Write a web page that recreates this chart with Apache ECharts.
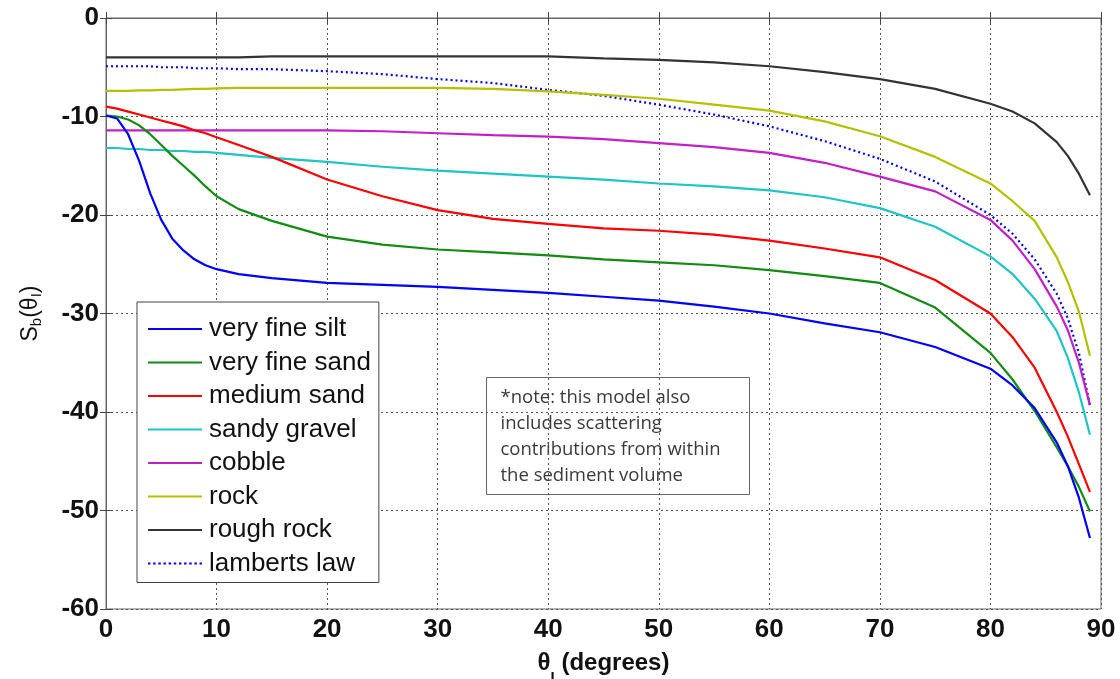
<!DOCTYPE html>
<html>
<head>
<meta charset="utf-8">
<script src="https://cdn.jsdelivr.net/npm/echarts@6/dist/echarts.min.js"></script>
<style>
html,body{margin:0;padding:0;background:#fff;}
#chart{width:1120px;height:679px;}
</style>
</head>
<body>
<div id="chart"></div>
<script>
// Incidence angles (degrees)
const angles = [0,1,2,3,4,5,6,7,8,9,10,12,15,20,25,30,35,40,45,50,55,60,65,70,75,80,82,84,86,87,88,89];

// Scattering strength values (dB)
const veryFineSilt = [-9.9,-10.2,-11.8,-14.5,-17.8,-20.5,-22.4,-23.6,-24.5,-25.1,-25.5,-26.0,-26.4,-26.9,-27.1,-27.3,-27.6,-27.9,-28.3,-28.7,-29.3,-30.0,-31.0,-31.9,-33.4,-35.6,-37.3,-39.6,-43.1,-45.5,-48.7,-52.8];
const veryFineSand = [-9.9,-10.0,-10.3,-10.9,-11.8,-12.9,-14.0,-15.0,-16.0,-17.1,-18.1,-19.4,-20.6,-22.2,-23.0,-23.5,-23.8,-24.1,-24.5,-24.8,-25.1,-25.6,-26.2,-26.9,-29.4,-34.0,-36.7,-39.9,-43.6,-45.5,-47.6,-50.1];
const mediumSand   = [-9.0,-9.2,-9.5,-9.8,-10.1,-10.4,-10.7,-11.0,-11.4,-11.7,-12.1,-12.9,-14.1,-16.4,-18.1,-19.5,-20.4,-20.9,-21.35,-21.6,-22.0,-22.6,-23.4,-24.3,-26.6,-30.0,-32.4,-35.5,-40.0,-42.5,-45.3,-48.1];
const sandyGravel  = [-13.2,-13.2,-13.3,-13.3,-13.4,-13.4,-13.5,-13.5,-13.6,-13.6,-13.7,-13.9,-14.2,-14.6,-15.1,-15.5,-15.8,-16.1,-16.4,-16.8,-17.1,-17.5,-18.2,-19.3,-21.2,-24.2,-26.0,-28.5,-31.8,-34.5,-38.0,-42.3];
const cobble       = [-11.4,-11.4,-11.4,-11.4,-11.4,-11.4,-11.4,-11.4,-11.4,-11.4,-11.4,-11.4,-11.4,-11.4,-11.5,-11.7,-11.9,-12.05,-12.3,-12.7,-13.1,-13.7,-14.7,-16.1,-17.6,-20.5,-22.6,-25.5,-29.3,-31.7,-35.0,-39.3];
const rock         = [-7.4,-7.4,-7.4,-7.35,-7.35,-7.3,-7.3,-7.25,-7.2,-7.2,-7.15,-7.1,-7.1,-7.1,-7.1,-7.1,-7.2,-7.45,-7.8,-8.2,-8.8,-9.4,-10.5,-12.0,-14.1,-16.8,-18.6,-20.6,-24.3,-26.8,-29.8,-34.3];
const roughRock    = [-4.0,-4.0,-4.0,-4.0,-4.0,-4.0,-4.0,-4.0,-4.0,-4.0,-4.0,-4.0,-3.9,-3.9,-3.9,-3.9,-3.9,-3.9,-4.1,-4.25,-4.5,-4.9,-5.5,-6.2,-7.2,-8.7,-9.5,-10.7,-12.6,-14.0,-15.8,-18.0];
const lambertsLaw  = [-4.9,-4.9,-4.9,-4.9,-4.9,-5.0,-5.0,-5.0,-5.1,-5.1,-5.1,-5.2,-5.2,-5.4,-5.7,-6.2,-6.6,-7.3,-7.9,-8.8,-9.8,-11.0,-12.5,-14.3,-16.6,-20.0,-21.9,-24.5,-28.0,-30.5,-34.0,-39.3];

const seriesNames  = ['very fine silt','very fine sand','medium sand','sandy gravel','cobble','rock','rough rock','lamberts law'];
const seriesValues = [veryFineSilt, veryFineSand, mediumSand, sandyGravel, cobble, rock, roughRock, lambertsLaw];
const seriesColors = ['#0000ff','#118c11','#ff0000','#1fc4c4','#c21fc9','#b4c000','#333333','#0000ff'];

const xTicks = [0,10,20,30,40,50,60,70,80,90];
const yTicks = [0,-10,-20,-30,-40,-50,-60];

const noteLines = ['*note: this model also','includes scattering','contributions from within','the sediment volume'];

const chart = echarts.init(document.getElementById('chart'));

const labelFont = {fontFamily:'Liberation Sans, Arial, sans-serif', fontWeight:'bold', fontSize:26, color:'#111'};
const gridLine = {show:true, lineStyle:{color:'#555', type:[2,3], width:1}};

// legend icons: solid bar, and dotted bar for the dotted series
const solidIcon = 'path://M0,0h54v2h-54z';
let dots = '';
for (let k = 0; k < 11; k++) { dots += 'M' + (k * 5) + ',0h2.4v2h-2.4z'; }
const dottedIcon = 'path://' + dots;

const series = seriesNames.map((name, i) => ({
  name: name,
  type: 'line',
  xAxisIndex: 0, yAxisIndex: 0,
  data: angles.map((a, k) => [a, seriesValues[i][k]]),
  symbol: 'none',
  showSymbol: false,
  smooth: false,
  lineStyle: {color: seriesColors[i], width: 2.2, type: name === 'lamberts law' ? [2,3] : 'solid'},
  itemStyle: {color: seriesColors[i]},
  z: 10 - i,
  silent: true
}));

chart.setOption({
  backgroundColor: '#fff',
  animation: false,
  grid: {left:106, top:18, right:19, bottom:70, outerBoundsMode:'none', containLabel:false,
         show:true, borderColor:'#666', borderWidth:1, backgroundColor:'#fff'},
  xAxis: [{
    type:'value', min:0, max:90, interval:10, position:'bottom',
    axisLine:{show:true, lineStyle:{color:'#666'}},
    axisTick:{show:true, inside:true, length:6, lineStyle:{color:'#444'}},
    axisLabel:Object.assign({margin:8}, labelFont),
    splitLine:gridLine,
    name:'{t|θ}{s|I}{t| (degrees)}',
    nameLocation:'middle', nameGap:40,
    nameTextStyle:{rich:{
      t:{fontFamily:'Liberation Sans, Arial, sans-serif', fontWeight:'bold', fontSize:24, color:'#111', lineHeight:28},
      s:{fontFamily:'Liberation Sans, Arial, sans-serif', fontWeight:'bold', fontSize:15, color:'#111', verticalAlign:'bottom', lineHeight:16, padding:[0,0,-8,0]}
    }}
  },{
    type:'value', min:0, max:90, interval:10, position:'top',
    axisLine:{show:true, lineStyle:{color:'#666'}},
    axisTick:{show:true, inside:true, length:6, lineStyle:{color:'#444'}},
    axisLabel:{show:false}, splitLine:{show:false}
  }],
  yAxis: [{
    type:'value', min:-60, max:0, interval:10, position:'left',
    axisLine:{show:true, lineStyle:{color:'#666'}},
    axisTick:{show:true, inside:true, length:6, lineStyle:{color:'#444'}},
    axisLabel:Object.assign({margin:7}, labelFont),
    splitLine:gridLine,
    name:'{t|S}{s|b}{t|(θ}{s|I}{t|)}',
    nameLocation:'middle', nameGap:62, nameRotate:90,
    nameTextStyle:{rich:{
      t:{fontFamily:'Liberation Sans, Arial, sans-serif', fontSize:23, color:'#111', lineHeight:27},
      s:{fontFamily:'Liberation Sans, Arial, sans-serif', fontSize:15, color:'#111', verticalAlign:'bottom', lineHeight:16}
    }}
  },{
    type:'value', min:-60, max:0, interval:10, position:'right',
    axisLine:{show:true, lineStyle:{color:'#666'}},
    axisTick:{show:true, inside:true, length:6, lineStyle:{color:'#444'}},
    axisLabel:{show:false}, splitLine:{show:false}
  }],
  legend: {
    show:true, orient:'vertical', left:137, top:302,
    data: seriesNames.map((n, i) => ({name: n, icon: n === 'lamberts law' ? dottedIcon : solidIcon})),
    backgroundColor:'#fff', borderColor:'#444', borderWidth:1,
    padding:[14,8,6,11],
    itemWidth:54, itemHeight:2.4, itemGap:7.5,
    textStyle:{fontFamily:'Liberation Sans, Arial, sans-serif', fontSize:26, color:'#111', lineHeight:26, padding:[0,0,0,2]},
    selectedMode:false,
    z: 20
  },
  graphic: [{
    type:'group', left:486, top:377, z:30,
    children:[
      {type:'rect', shape:{x:0,y:0,width:263,height:117}, style:{fill:'#fff', stroke:'#666', lineWidth:1}},
      {type:'text', left:14, top:7, style:{text:noteLines.join('\n'), font:'18.5px "Open Sans", sans-serif', fill:'#3a3a3a', lineHeight:26}}
    ]
  }],
  series: series
});
</script>
</body>
</html>
